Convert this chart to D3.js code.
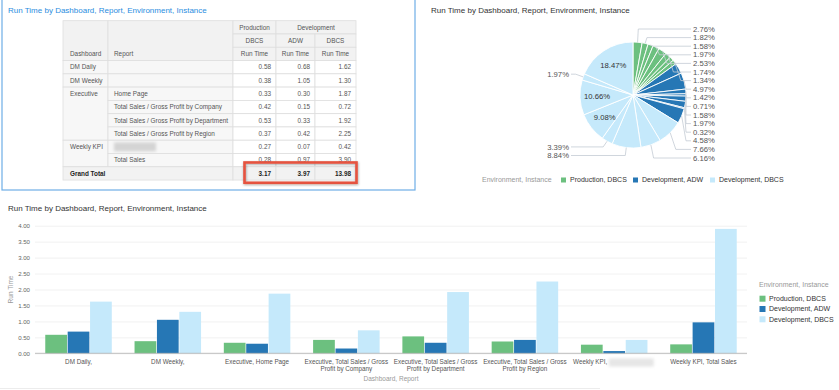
<!DOCTYPE html>
<html><head><meta charset="utf-8">
<script src="https://cdn.jsdelivr.net/npm/d3@7"></script>
<style>
body{margin:0;background:#fff}
svg{display:block;font-family:"Liberation Sans",Arial,Helvetica,sans-serif}
</style>
</head><body>
<svg id="c" width="839" height="390"></svg>
<script>
// ---------------- DATA ----------------
const chartTitle = "Run Time by Dashboard, Report, Environment, Instance";
const dashboards = ["DM Daily","DM Weekly","Executive","Executive","Executive","Executive","Weekly KPI","Weekly KPI"];
const reports = ["","","Home Page","Total Sales / Gross Profit by Company","Total Sales / Gross Profit by Department","Total Sales / Gross Profit by Region",null,"Total Sales"]; // null = redacted (blurred) in source
const environments = ["Production","Development","Development"];
const instances = ["DBCS","ADW","DBCS"];
const seriesNames = ["Production, DBCS","Development, ADW","Development, DBCS"];
const prodDBCS = [0.58,0.38,0.33,0.42,0.53,0.37,0.27,0.28];
const devADW   = [0.68,1.05,0.30,0.15,0.33,0.42,0.07,0.97];
const devDBCS  = [1.62,1.30,1.87,0.72,1.92,2.25,0.42,3.90];
const grandTotals = [3.17,3.97,13.98];
// pie shares (%) per series, same row order
const pieProd = [2.76,1.82,1.58,1.97,2.53,1.74,1.28,1.34];
const pieADW  = [3.22,4.97,1.42,0.71,1.58,1.97,0.32,4.58];
const pieDBCS = [7.66,6.16,8.84,3.39,9.08,10.66,1.97,18.47];
// labels not shown in source pie (overlap-hidden)
const pieHidden = ["Production, DBCS|6","Development, ADW|0"];
const yTicks = [0,0.5,1,1.5,2,2.5,3,3.5,4];
const legendTitle = "Environment, Instance";
const xAxisTitle = "Dashboard, Report";
const yAxisTitle = "Run Time";
const colors = ["#6cc07f","#2677b5","#c5e9fb"];

// ---------------- SETUP ----------------
const svg = d3.select("#c");
const defs = svg.append("defs");
defs.append("filter").attr("id","blur").attr("x","-30%").attr("y","-60%").attr("width","160%").attr("height","220%")
  .append("feGaussianBlur").attr("stdDeviation",1.6);
const sh = defs.append("filter").attr("id","shadow").attr("x","-10%").attr("y","-40%").attr("width","120%").attr("height","180%");
sh.append("feDropShadow").attr("dx",0.5).attr("dy",1).attr("stdDeviation",1).attr("flood-color","#000").attr("flood-opacity",0.35);

const series = [prodDBCS, devADW, devDBCS];

// ---------------- TABLE PANEL ----------------
svg.append("rect").attr("x",2).attr("y",-2).attr("width",413).attr("height",192)
  .attr("fill","none").attr("stroke","#6eaee6").attr("stroke-width",1.2);
svg.append("text").attr("x",8).attr("y",13).attr("font-size",8).attr("fill","#2a8de0").text(chartTitle);

const cols = [63,108,233,276,315,356];
const tTop = 20.7, rowH = 13.28;
const rowY = i => tTop + i*rowH;
const tbl = svg.append("g").attr("font-size",6.4);
const border = "#dedede";
function cell(x0,x1,r0,r1,fill){
  tbl.append("rect").attr("x",x0).attr("y",rowY(r0)).attr("width",x1-x0).attr("height",rowY(r1)-rowY(r0))
    .attr("fill",fill).attr("stroke",border).attr("stroke-width",0.8);
}
function txt(x,r,s,anchor,opts={}){
  return tbl.append("text").attr("x",x).attr("y",rowY(r)+rowH/2).attr("dy","0.35em")
    .attr("text-anchor",anchor).attr("fill",opts.fill||"#555").attr("font-weight",opts.bold?"bold":null).text(s);
}
// header
cell(cols[0],cols[1],0,3,"#f2f2f2");
cell(cols[1],cols[2],0,3,"#f2f2f2");
txt(cols[0]+7,2,"Dashboard","start");
txt(cols[1]+6,2,"Report","start");
// environment header (merge equal adjacent)
let e0 = 0;
for(let i=1;i<=environments.length;i++){
  if(i===environments.length || environments[i]!==environments[e0]){
    cell(cols[2+e0],cols[2+i],0,1,"#f2f2f2");
    txt((cols[2+e0]+cols[2+i])/2,0,environments[e0],"middle");
    e0 = i;
  }
}
instances.forEach((s,i)=>{
  cell(cols[2+i],cols[3+i],1,2,"#f2f2f2");
  txt((cols[2+i]+cols[3+i])/2,1,s,"middle");
  cell(cols[2+i],cols[3+i],2,3,"#f2f2f2");
  txt((cols[2+i]+cols[3+i])/2,2,"Run Time","middle");
});
// body
let d0 = 0;
for(let i=1;i<=dashboards.length;i++){
  if(i===dashboards.length || dashboards[i]!==dashboards[d0]){
    cell(cols[0],cols[1],3+d0,3+i,"#f7f7f7");
    txt(cols[0]+7,3+d0,dashboards[d0],"start");
    d0 = i;
  }
}
reports.forEach((r,i)=>{
  cell(cols[1],cols[2],3+i,4+i,"#f7f7f7");
  if(r===null){
    tbl.append("rect").attr("x",cols[1]+6).attr("y",rowY(3+i)+2.2).attr("width",42).attr("height",rowH-4.4)
      .attr("fill","#d4d4d4").attr("filter","url(#blur)");
  } else txt(cols[1]+6,3+i,r,"start");
  series.forEach((s,j)=>{
    cell(cols[2+j],cols[3+j],3+i,4+i,"#fff");
    txt(cols[3+j]-5,3+i,d3.format(".2f")(s[i]),"end",{fill:"#555"});
  });
});
const gr = 3+dashboards.length;
cell(cols[0],cols[2],gr,gr+1,"#f2f2f2");
txt(cols[0]+7,gr,"Grand Total","start",{bold:true,fill:"#222"});
grandTotals.forEach((v,j)=>{
  cell(cols[2+j],cols[3+j],gr,gr+1,"#f2f2f2");
  txt(cols[3+j]-5,gr,d3.format(".2f")(v),"end",{bold:true,fill:"#222"});
});
tbl.append("rect").attr("x",cols[2]+11.5).attr("y",rowY(gr)-4.3).attr("width",cols[5]-cols[2]-11).attr("height",rowH+7)
  .attr("fill","none").attr("stroke","#e5533f").attr("stroke-width",2.6).attr("filter","url(#shadow)");

// ---------------- PIE ----------------
svg.append("text").attr("x",431).attr("y",13).attr("font-size",8).attr("fill","#333").text(chartTitle);
const cx = 633, cy = 95, R = 53;
const pieData = [];
[pieProd,pieADW,pieDBCS].forEach((arr,si)=>arr.forEach((v,i)=>pieData.push({s:si,i,v,key:seriesNames[si]+"|"+i})));
const pie = d3.pie().value(d=>d.v).sort(null);
const arcs = pie(pieData);
const arcGen = d3.arc().innerRadius(0).outerRadius(R);
const pg = svg.append("g").attr("transform",`translate(${cx},${cy})`);
pg.selectAll("path").data(arcs).join("path").attr("d",arcGen)
  .attr("fill",d=>colors[d.data.s]).attr("stroke","#fff").attr("stroke-width",0.9);
const polar = (r,a)=>[cx + r*Math.sin(a), cy - r*Math.cos(a)];
const pct = v => d3.format(".2f")(v)+"%";
const lab = svg.append("g").attr("font-size",7.7).attr("fill","#555");
const inside = arcs.filter(d=>d.data.v>=9);
inside.forEach(d=>{
  const a=(d.startAngle+d.endAngle)/2, p=polar(R*0.68,a);
  lab.append("text").attr("x",p[0]).attr("y",p[1]).attr("dy","0.35em").attr("text-anchor","middle").attr("fill","#333").text(pct(d.data.v));
});
const outside = arcs.filter(d=>d.data.v<9 && !pieHidden.includes(d.data.key));
const right = outside.filter(d=>(d.startAngle+d.endAngle)/2 < Math.PI);
const left = outside.filter(d=>(d.startAngle+d.endAngle)/2 >= Math.PI);
const stepY = 8.6, rightTop = 29;
right.forEach((d,k)=>{ d.ly = rightTop + k*stepY; });
// left side: natural position with downward collision avoidance from bottom
const leftSorted = left.slice().sort((a,b)=>polar(R+8,(b.startAngle+b.endAngle)/2)[1]-polar(R+8,(a.startAngle+a.endAngle)/2)[1]);
let prev = Infinity;
leftSorted.forEach(d=>{ const ny = polar(R+8,(d.startAngle+d.endAngle)/2)[1]; d.ly = Math.min(ny, prev-stepY); prev = d.ly; });
const lineCol = "#c4ccd4";
right.forEach(d=>{
  const a=(d.startAngle+d.endAngle)/2, p1=polar(R,a), p2=polar(R+8,a);
  const ex = Math.min(p2[0],686);
  lab.append("polyline").attr("points",[p1,[ex,d.ly],[691,d.ly]].map(p=>p.join(",")).join(" "))
    .attr("fill","none").attr("stroke",lineCol).attr("stroke-width",0.8);
  lab.append("text").attr("x",693).attr("y",d.ly).attr("dy","0.35em").text(pct(d.data.v));
});
left.forEach(d=>{
  const a=(d.startAngle+d.endAngle)/2, p1=polar(R,a), p2=polar(R+8,a);
  lab.append("polyline").attr("points",[p1,[p2[0],d.ly],[571,d.ly]].map(p=>p.join(",")).join(" "))
    .attr("fill","none").attr("stroke",lineCol).attr("stroke-width",0.8);
  lab.append("text").attr("x",569).attr("y",d.ly).attr("dy","0.35em").attr("text-anchor","end").text(pct(d.data.v));
});
// pie legend
const pl = svg.append("g").attr("font-size",7);
pl.append("text").attr("x",482).attr("y",180).attr("dy","0.35em").attr("fill","#999").text(legendTitle);
const plX = [561,633,710];
seriesNames.forEach((n,i)=>{
  pl.append("rect").attr("x",plX[i]).attr("y",177.5).attr("width",5).attr("height",5).attr("fill",colors[i]);
  pl.append("text").attr("x",plX[i]+9).attr("y",180).attr("dy","0.35em").attr("fill","#333").text(n);
});

// ---------------- BAR CHART ----------------
svg.append("text").attr("x",8).attr("y",211).attr("font-size",8).attr("fill","#333").text(chartTitle);
const categories = dashboards.map((d,i)=> reports[i]===null ? d+"," : (reports[i] ? d+", "+reports[i] : d+","));
const x0 = d3.scaleBand().domain(categories.map((c,i)=>i)).range([35,747]).paddingInner(0.255).paddingOuter(0.115);
const x1 = d3.scaleBand().domain(seriesNames).range([0,x0.bandwidth()]).paddingInner(0.03);
const y = d3.scaleLinear().domain([0,4]).range([353.3,225.7]);
const bg = svg.append("g");
bg.append("g").attr("transform","translate(35,0)")
  .call(d3.axisLeft(y).tickValues(yTicks).tickFormat(d3.format(".2f")).tickSize(-712).tickPadding(5))
  .call(g=>{
    g.select(".domain").remove();
    g.selectAll(".tick line").attr("stroke","#eeeeee").attr("stroke-width",0.8);
    g.selectAll(".tick text").attr("font-size",6.1).attr("fill","#666").attr("font-family","Liberation Sans, Arial, sans-serif");
  });
categories.forEach((c,i)=>{
  seriesNames.forEach((s,j)=>{
    const v = series[j][i];
    bg.append("rect").attr("x",x0(i)+x1(s)).attr("y",y(v)).attr("width",x1.bandwidth()).attr("height",y(0)-y(v)).attr("fill",colors[j]);
  });
});
bg.append("line").attr("x1",35).attr("x2",747).attr("y1",y(0)).attr("y2",y(0)).attr("stroke","#b0b0b0").attr("stroke-width",0.8);
// category labels
const cl = bg.append("g").attr("font-size",6.3).attr("fill","#555");
categories.forEach((c,i)=>{
  const cxm = x0(i)+x0.bandwidth()/2;
  if(reports[i]===null){
    const t = cl.append("text").attr("y",364).attr("text-anchor","start").text(c);
    const w = t.node().getComputedTextLength(), bw = 45;
    const sx = cxm - (w+3+bw)/2;
    t.attr("x",sx);
    cl.append("rect").attr("x",sx+w+1.5).attr("y",358.5).attr("width",bw).attr("height",8).attr("fill","#e6e6e6").attr("filter","url(#blur)");
    return;
  }
  const words = c.split(" ");
  const lines=[]; let cur="";
  const t = cl.append("text").attr("text-anchor","middle");
  const probe = t.append("tspan");
  words.forEach(w=>{
    const test = cur? cur+" "+w : w;
    probe.text(test);
    if(probe.node().getComputedTextLength()>86 && cur){ lines.push(cur); cur=w; } else cur=test;
  });
  lines.push(cur);
  probe.remove();
  lines.forEach((l,k)=>t.append("tspan").attr("x",cxm).attr("y",364+k*7.2).text(l));
});
bg.append("text").attr("x",391).attr("y",380.5).attr("text-anchor","middle").attr("font-size",6.5).attr("fill","#999").text(xAxisTitle);
bg.append("text").attr("transform",`translate(13,${(y(0)+y(4))/2}) rotate(-90)`).attr("text-anchor","middle")
  .attr("font-size",6.5).attr("fill","#999").text(yAxisTitle);
// legend
const bl = svg.append("g").attr("font-size",7);
bl.append("text").attr("x",759).attr("y",285).attr("dy","0.35em").attr("fill","#999").text(legendTitle);
seriesNames.forEach((n,i)=>{
  const yy = 298.7 + i*10.3;
  bl.append("rect").attr("x",759.5).attr("y",yy-3).attr("width",6).attr("height",6).attr("fill",colors[i]);
  bl.append("text").attr("x",769).attr("y",yy).attr("dy","0.35em").attr("fill","#333").text(n);
});
svg.append("line").attr("x1",0).attr("x2",600).attr("y1",388.5).attr("y2",388.5).attr("stroke","#ececec").attr("stroke-width",1);
</script>
</body></html>
